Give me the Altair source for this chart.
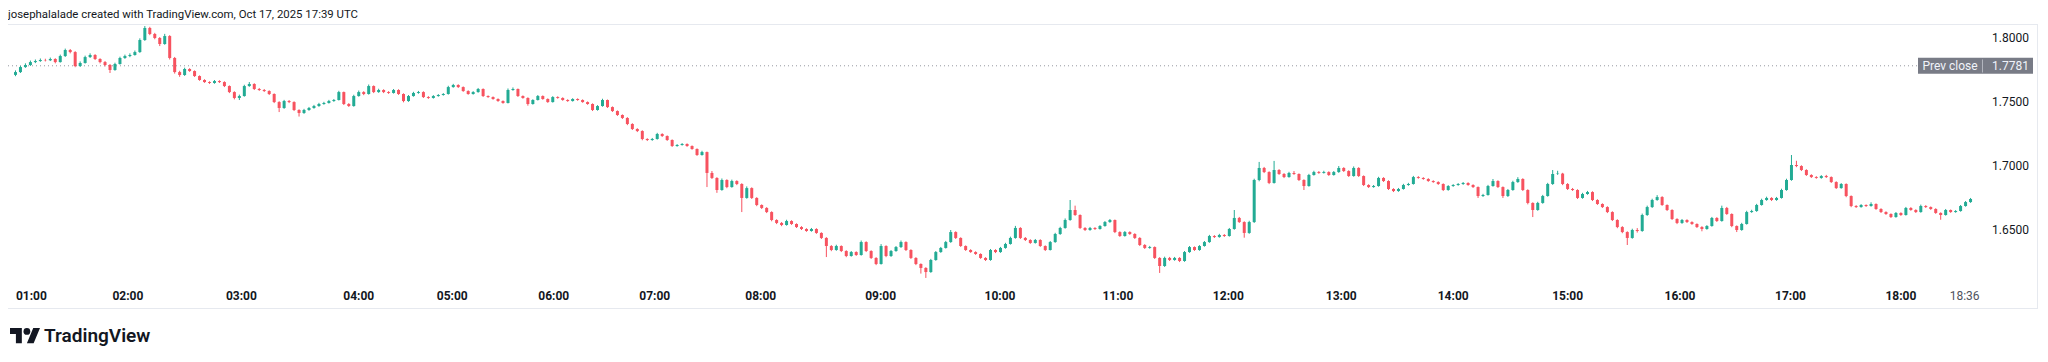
import altair as alt
import pandas as pd

# ---- data (bar index = position of each candle) ----
OPEN_FIRST = 1.7710
CLOSE = [
    1.7732, 1.7771, 1.7787, 1.7810, 1.7818, 1.7826, 1.7824, 1.7834, 1.7810, 1.7857,
    1.7904, 1.7888, 1.7779, 1.7803, 1.7849, 1.7865, 1.7834, 1.7810, 1.7787, 1.7748,
    1.7795, 1.7842, 1.7857, 1.7865, 1.7888, 1.7982, 1.8076, 1.8029, 1.7998, 1.7951,
    1.8013, 1.7842, 1.7732, 1.7709, 1.7756, 1.7740, 1.7701, 1.7670, 1.7654, 1.7647,
    1.7662, 1.7654, 1.7623, 1.7576, 1.7530, 1.7545, 1.7623, 1.7639, 1.7600, 1.7592,
    1.7584, 1.7561, 1.7498, 1.7452, 1.7506, 1.7498, 1.7436, 1.7413, 1.7436, 1.7452,
    1.7467, 1.7483, 1.7491, 1.7506, 1.7514, 1.7576, 1.7483, 1.7467, 1.7545, 1.7576,
    1.7561, 1.7623, 1.7576, 1.7592, 1.7576, 1.7569, 1.7592, 1.7561, 1.7506, 1.7545,
    1.7569, 1.7576, 1.7537, 1.7530, 1.7545, 1.7553, 1.7561, 1.7615, 1.7631, 1.7615,
    1.7584, 1.7561, 1.7576, 1.7600, 1.7545, 1.7537, 1.7522, 1.7506, 1.7491, 1.7592,
    1.7600, 1.7545, 1.7530, 1.7483, 1.7514, 1.7545, 1.7522, 1.7498, 1.7537, 1.7530,
    1.7514, 1.7506, 1.7522, 1.7514, 1.7498, 1.7483, 1.7436, 1.7467, 1.7514, 1.7459,
    1.7428, 1.7397, 1.7374, 1.7327, 1.7288, 1.7272, 1.7210, 1.7202, 1.7210, 1.7249,
    1.7233, 1.7202, 1.7155, 1.7163, 1.7171, 1.7155, 1.7132, 1.7085, 1.7108, 1.6945,
    1.6906, 1.6812, 1.6890, 1.6835, 1.6882, 1.6859, 1.6750, 1.6827, 1.6750, 1.6695,
    1.6672, 1.6640, 1.6578, 1.6555, 1.6539, 1.6570, 1.6547, 1.6523, 1.6508, 1.6492,
    1.6508, 1.6477, 1.6438, 1.6375, 1.6344, 1.6375, 1.6336, 1.6297, 1.6328, 1.6305,
    1.6406, 1.6336, 1.6282, 1.6235, 1.6375, 1.6297, 1.6336, 1.6367, 1.6406, 1.6344,
    1.6282, 1.6235, 1.6204, 1.6172, 1.6266, 1.6328, 1.6360, 1.6406, 1.6484, 1.6438,
    1.6375, 1.6344, 1.6328, 1.6313, 1.6282, 1.6266, 1.6344, 1.6328, 1.6360, 1.6391,
    1.6438, 1.6516, 1.6438, 1.6422, 1.6399, 1.6422, 1.6375, 1.6344, 1.6406, 1.6469,
    1.6516, 1.6578, 1.6656, 1.6617, 1.6516, 1.6500, 1.6516, 1.6508, 1.6531, 1.6562,
    1.6578, 1.6484, 1.6453, 1.6484, 1.6469, 1.6438, 1.6383, 1.6360, 1.6367, 1.6282,
    1.6219, 1.6282, 1.6266, 1.6282, 1.6258, 1.6328, 1.6367, 1.6344, 1.6375, 1.6406,
    1.6453, 1.6445, 1.6461, 1.6453, 1.6508, 1.6594, 1.6562, 1.6477, 1.6562, 1.6890,
    1.6984, 1.6952, 1.6867, 1.6968, 1.6937, 1.6913, 1.6945, 1.6937, 1.6890, 1.6843,
    1.6929, 1.6952, 1.6945, 1.6952, 1.6929, 1.6952, 1.6984, 1.6960, 1.6921, 1.6984,
    1.6921, 1.6851, 1.6835, 1.6843, 1.6906, 1.6882, 1.6820, 1.6804, 1.6820, 1.6851,
    1.6859, 1.6913, 1.6906, 1.6898, 1.6882, 1.6874, 1.6859, 1.6812, 1.6843, 1.6851,
    1.6859, 1.6867, 1.6851, 1.6835, 1.6765, 1.6773, 1.6843, 1.6882, 1.6835, 1.6765,
    1.6812, 1.6874, 1.6898, 1.6812, 1.6711, 1.6656, 1.6711, 1.6765, 1.6859, 1.6937,
    1.6940, 1.6859, 1.6820, 1.6812, 1.6750, 1.6781, 1.6796, 1.6734, 1.6703, 1.6679,
    1.6640, 1.6578, 1.6523, 1.6484, 1.6438, 1.6500, 1.6492, 1.6617, 1.6679, 1.6734,
    1.6757, 1.6695, 1.6656, 1.6586, 1.6555, 1.6578, 1.6562, 1.6547, 1.6523, 1.6508,
    1.6531, 1.6594, 1.6570, 1.6672, 1.6625, 1.6531, 1.6500, 1.6547, 1.6640, 1.6648,
    1.6695, 1.6734, 1.6750, 1.6734, 1.6750, 1.6812, 1.6890, 1.7007, 1.6999, 1.6968,
    1.6929, 1.6913, 1.6906, 1.6921, 1.6913, 1.6874, 1.6827, 1.6859, 1.6765, 1.6687,
    1.6679, 1.6695, 1.6687, 1.6703, 1.6664, 1.6640, 1.6625, 1.6601, 1.6633, 1.6617,
    1.6672, 1.6656, 1.6640, 1.6687, 1.6679, 1.6664, 1.6633, 1.6617, 1.6656, 1.6640,
    1.6648, 1.6687, 1.6718, 1.6742,
]
HIGH = [
    1.7745, 1.7780, 1.7800, 1.7822, 1.7830, 1.7838, 1.7836, 1.7845, 1.7840, 1.7868,
    1.7915, 1.7912, 1.7895, 1.7815, 1.7860, 1.7878, 1.7872, 1.7840, 1.7818, 1.7795,
    1.7805, 1.7852, 1.7868, 1.7878, 1.7900, 1.7995, 1.8091, 1.8085, 1.8038, 1.8005,
    1.8030, 1.8020, 1.7850, 1.7742, 1.7766, 1.7762, 1.7745, 1.7706, 1.7676, 1.7660,
    1.7670, 1.7668, 1.7660, 1.7628, 1.7582, 1.7556, 1.7633, 1.7654, 1.7645, 1.7608,
    1.7600, 1.7590, 1.7566, 1.7505, 1.7515, 1.7514, 1.7504, 1.7442, 1.7445, 1.7460,
    1.7476, 1.7492, 1.7500, 1.7515, 1.7522, 1.7586, 1.7580, 1.7490, 1.7555, 1.7588,
    1.7583, 1.7635, 1.7628, 1.7602, 1.7598, 1.7583, 1.7600, 1.7598, 1.7566, 1.7553,
    1.7578, 1.7585, 1.7582, 1.7544, 1.7552, 1.7560, 1.7568, 1.7625, 1.7640, 1.7637,
    1.7620, 1.7590, 1.7583, 1.7608, 1.7605, 1.7550, 1.7542, 1.7527, 1.7511, 1.7604,
    1.7612, 1.7604, 1.7550, 1.7535, 1.7520, 1.7553, 1.7550, 1.7527, 1.7544, 1.7543,
    1.7535, 1.7520, 1.7528, 1.7527, 1.7519, 1.7503, 1.7488, 1.7474, 1.7524, 1.7518,
    1.7464, 1.7433, 1.7402, 1.7380, 1.7333, 1.7294, 1.7278, 1.7216, 1.7218, 1.7258,
    1.7255, 1.7238, 1.7207, 1.7170, 1.7178, 1.7176, 1.7160, 1.7137, 1.7118, 1.7112,
    1.6960, 1.6912, 1.6902, 1.6896, 1.6893, 1.6888, 1.6865, 1.6840, 1.6833, 1.6756,
    1.6700, 1.6678, 1.6646, 1.6584, 1.6562, 1.6580, 1.6576, 1.6552, 1.6530, 1.6514,
    1.6516, 1.6514, 1.6482, 1.6444, 1.6382, 1.6385, 1.6380, 1.6342, 1.6336, 1.6334,
    1.6418, 1.6412, 1.6342, 1.6288, 1.6390, 1.6381, 1.6344, 1.6375, 1.6418, 1.6412,
    1.6350, 1.6288, 1.6240, 1.6210, 1.6275, 1.6336, 1.6368, 1.6415, 1.6500, 1.6490,
    1.6443, 1.6380, 1.6350, 1.6334, 1.6318, 1.6288, 1.6352, 1.6350, 1.6368, 1.6400,
    1.6448, 1.6532, 1.6522, 1.6445, 1.6428, 1.6430, 1.6428, 1.6380, 1.6414, 1.6478,
    1.6525, 1.6590, 1.6734, 1.6690, 1.6622, 1.6522, 1.6524, 1.6522, 1.6538, 1.6570,
    1.6586, 1.6582, 1.6490, 1.6492, 1.6490, 1.6475, 1.6444, 1.6390, 1.6376, 1.6372,
    1.6288, 1.6292, 1.6290, 1.6290, 1.6288, 1.6336, 1.6375, 1.6372, 1.6382, 1.6414,
    1.6462, 1.6460, 1.6470, 1.6468, 1.6516, 1.6656, 1.6602, 1.6568, 1.6572, 1.6900,
    1.7031, 1.6992, 1.6958, 1.7039, 1.6975, 1.6944, 1.6954, 1.6960, 1.6942, 1.6896,
    1.6938, 1.6962, 1.6960, 1.6962, 1.6958, 1.6960, 1.6999, 1.6990, 1.6966, 1.6996,
    1.6990, 1.6926, 1.6857, 1.6851, 1.6915, 1.6912, 1.6888, 1.6826, 1.6828, 1.6860,
    1.6868, 1.6922, 1.6920, 1.6912, 1.6904, 1.6888, 1.6880, 1.6864, 1.6850, 1.6858,
    1.6866, 1.6874, 1.6872, 1.6857, 1.6840, 1.6782, 1.6852, 1.6898, 1.6888, 1.6840,
    1.6820, 1.6884, 1.6912, 1.6904, 1.6818, 1.6716, 1.6720, 1.6774, 1.6868, 1.6968,
    1.6962, 1.6946, 1.6866, 1.6828, 1.6818, 1.6790, 1.6805, 1.6802, 1.6740, 1.6708,
    1.6685, 1.6646, 1.6584, 1.6530, 1.6490, 1.6510, 1.6515, 1.6628, 1.6690, 1.6744,
    1.6772, 1.6764, 1.6700, 1.6662, 1.6592, 1.6586, 1.6584, 1.6568, 1.6552, 1.6530,
    1.6538, 1.6602, 1.6600, 1.6690, 1.6680, 1.6630, 1.6536, 1.6556, 1.6650, 1.6658,
    1.6704, 1.6744, 1.6760, 1.6756, 1.6758, 1.6822, 1.6900, 1.7085, 1.7040, 1.7005,
    1.6974, 1.6935, 1.6920, 1.6928, 1.6930, 1.6918, 1.6880, 1.6866, 1.6864, 1.6770,
    1.6694, 1.6702, 1.6700, 1.6716, 1.6708, 1.6670, 1.6646, 1.6630, 1.6640, 1.6638,
    1.6680, 1.6678, 1.6662, 1.6698, 1.6694, 1.6684, 1.6670, 1.6638, 1.6664, 1.6660,
    1.6655, 1.6695, 1.6726, 1.6750,
]
LOW = [
    1.7700, 1.7725, 1.7765, 1.7780, 1.7802, 1.7812, 1.7815, 1.7818, 1.7800, 1.7806,
    1.7850, 1.7878, 1.7770, 1.7772, 1.7798, 1.7842, 1.7826, 1.7800, 1.7776, 1.7725,
    1.7742, 1.7790, 1.7835, 1.7848, 1.7860, 1.7882, 1.7975, 1.8020, 1.7988, 1.7935,
    1.7945, 1.7830, 1.7720, 1.7695, 1.7702, 1.7734, 1.7694, 1.7664, 1.7648, 1.7640,
    1.7641, 1.7647, 1.7615, 1.7568, 1.7519, 1.7514, 1.7540, 1.7617, 1.7592, 1.7585,
    1.7577, 1.7553, 1.7490, 1.7420, 1.7445, 1.7490, 1.7428, 1.7385, 1.7406, 1.7430,
    1.7446, 1.7461, 1.7477, 1.7486, 1.7500, 1.7510, 1.7475, 1.7460, 1.7462, 1.7540,
    1.7552, 1.7556, 1.7568, 1.7570, 1.7568, 1.7562, 1.7564, 1.7554, 1.7496, 1.7500,
    1.7540, 1.7563, 1.7530, 1.7523, 1.7525, 1.7540, 1.7548, 1.7556, 1.7610, 1.7608,
    1.7578, 1.7555, 1.7556, 1.7571, 1.7538, 1.7531, 1.7516, 1.7500, 1.7485, 1.7487,
    1.7586, 1.7538, 1.7524, 1.7470, 1.7478, 1.7510, 1.7516, 1.7492, 1.7494, 1.7524,
    1.7508, 1.7500, 1.7502, 1.7508, 1.7493, 1.7477, 1.7428, 1.7431, 1.7462, 1.7452,
    1.7421, 1.7390, 1.7366, 1.7318, 1.7280, 1.7264, 1.7200, 1.7194, 1.7196, 1.7205,
    1.7226, 1.7195, 1.7148, 1.7150, 1.7158, 1.7149, 1.7126, 1.7078, 1.7080, 1.6835,
    1.6898, 1.6790, 1.6806, 1.6826, 1.6830, 1.6850, 1.6640, 1.6744, 1.6742, 1.6686,
    1.6664, 1.6632, 1.6568, 1.6546, 1.6530, 1.6534, 1.6540, 1.6516, 1.6500, 1.6486,
    1.6487, 1.6470, 1.6430, 1.6289, 1.6335, 1.6338, 1.6328, 1.6288, 1.6292, 1.6298,
    1.6300, 1.6328, 1.6274, 1.6226, 1.6230, 1.6288, 1.6290, 1.6330, 1.6360, 1.6336,
    1.6274, 1.6226, 1.6160, 1.6126, 1.6166, 1.6260, 1.6322, 1.6355, 1.6400, 1.6430,
    1.6368, 1.6337, 1.6322, 1.6306, 1.6275, 1.6258, 1.6260, 1.6320, 1.6322, 1.6354,
    1.6386, 1.6432, 1.6430, 1.6414, 1.6392, 1.6394, 1.6368, 1.6336, 1.6340, 1.6400,
    1.6462, 1.6510, 1.6572, 1.6610, 1.6508, 1.6492, 1.6494, 1.6500, 1.6503, 1.6526,
    1.6556, 1.6476, 1.6446, 1.6448, 1.6462, 1.6430, 1.6375, 1.6352, 1.6354, 1.6274,
    1.6165, 1.6212, 1.6258, 1.6260, 1.6250, 1.6252, 1.6322, 1.6337, 1.6338, 1.6370,
    1.6400, 1.6438, 1.6440, 1.6446, 1.6448, 1.6502, 1.6555, 1.6440, 1.6470, 1.6555,
    1.6880, 1.6944, 1.6858, 1.6862, 1.6930, 1.6905, 1.6908, 1.6930, 1.6882, 1.6812,
    1.6838, 1.6924, 1.6938, 1.6940, 1.6922, 1.6924, 1.6946, 1.6953, 1.6914, 1.6916,
    1.6914, 1.6843, 1.6828, 1.6830, 1.6838, 1.6875, 1.6812, 1.6796, 1.6798, 1.6815,
    1.6845, 1.6854, 1.6900, 1.6892, 1.6876, 1.6868, 1.6852, 1.6804, 1.6806, 1.6837,
    1.6845, 1.6852, 1.6845, 1.6828, 1.6750, 1.6758, 1.6768, 1.6838, 1.6828, 1.6750,
    1.6758, 1.6806, 1.6868, 1.6804, 1.6700, 1.6601, 1.6650, 1.6705, 1.6760, 1.6852,
    1.6930, 1.6850, 1.6812, 1.6805, 1.6742, 1.6744, 1.6775, 1.6726, 1.6696, 1.6672,
    1.6632, 1.6570, 1.6514, 1.6475, 1.6383, 1.6432, 1.6480, 1.6486, 1.6610, 1.6672,
    1.6728, 1.6688, 1.6648, 1.6578, 1.6546, 1.6548, 1.6555, 1.6540, 1.6516, 1.6490,
    1.6502, 1.6526, 1.6563, 1.6565, 1.6618, 1.6522, 1.6484, 1.6494, 1.6542, 1.6634,
    1.6642, 1.6690, 1.6728, 1.6726, 1.6728, 1.6745, 1.6806, 1.6884, 1.6990, 1.6960,
    1.6922, 1.6906, 1.6900, 1.6900, 1.6906, 1.6867, 1.6820, 1.6822, 1.6756, 1.6678,
    1.6672, 1.6674, 1.6680, 1.6682, 1.6657, 1.6633, 1.6618, 1.6594, 1.6596, 1.6610,
    1.6612, 1.6650, 1.6633, 1.6635, 1.6672, 1.6657, 1.6626, 1.6580, 1.6612, 1.6634,
    1.6635, 1.6643, 1.6682, 1.6712,
]
HOUR_LABELS = ["01:00", "02:00", "03:00", "04:00", "05:00", "06:00", "07:00", "08:00", "09:00",
               "10:00", "11:00", "12:00", "13:00", "14:00", "15:00", "16:00", "17:00", "18:00"]
HOUR_BAR = [3.2, 22.6, 45.4, 69.0, 87.8, 108.2, 128.5, 149.8, 173.9,
            197.9, 221.6, 243.8, 266.5, 289.0, 312.0, 334.6, 356.8, 379.0]
LAST_LABEL = ["18:36"]
LAST_BAR = [391.8]
PRICE_TICKS = [1.6500, 1.7000, 1.7500, 1.8000]
PREV_CLOSE = 1.7781
TITLE = "josephalalade created with TradingView.com, Oct 17, 2025 17:39 UTC"

# each candle opens where the previous one closed
OPEN = [OPEN_FIRST] + CLOSE[:-1]
df = pd.DataFrame({"bar": list(range(len(CLOSE))), "open": OPEN, "high": HIGH,
                   "low": LOW, "close": CLOSE})
df["dir"] = ["up" if c >= o else "down" for o, c in zip(OPEN, CLOSE)]

FONT = "Roboto"
TXT = "#131722"
W, H = 1977, 261
xs = alt.Scale(domain=[-0.5, 394.9], nice=False, zero=False)
ys = alt.Scale(domain=[1.6071, 1.8107], nice=False, zero=False)
col = alt.Color("dir:N", scale=alt.Scale(domain=["up", "down"], range=["#22AB94", "#F7525F"]), legend=None)

base = alt.Chart(df).encode(x=alt.X("bar:Q", scale=xs, axis=None), color=col)
wicks = base.mark_rule(strokeWidth=1).encode(y=alt.Y("low:Q", scale=ys, axis=None), y2="high:Q")
bodies = base.mark_bar(width=3).encode(y=alt.Y("open:Q", scale=ys, axis=None), y2="close:Q")

# frame lines (decoration)
one = pd.DataFrame({"k": [0]})
frame_top = alt.Chart(one).mark_rule(color="#E6E9EF", strokeWidth=1).encode(
    x=alt.value(0), x2=alt.value(2030), y=alt.value(0.5))
frame_bot = alt.Chart(one).mark_rule(color="#E6E9EF", strokeWidth=1).encode(
    x=alt.value(0), x2=alt.value(2030), y=alt.value(284.5))
frame_right = alt.Chart(one).mark_rule(color="#E6E9EF", strokeWidth=1).encode(
    x=alt.value(2029.5), y=alt.value(0), y2=alt.value(284.5))

# previous close line and label
pc = pd.DataFrame({"p": [PREV_CLOSE], "name": ["Prev close"], "val": [f"{PREV_CLOSE:.4f}"]})
pcy = alt.Y("p:Q", scale=ys, axis=None)
prev_line = alt.Chart(pc).mark_rule(color="#9598A1", strokeWidth=1, strokeDash=[1, 3]).encode(
    x=alt.value(0), x2=alt.value(1910), y=pcy)
prev_box = alt.Chart(pc).mark_rule(color="#787B86", strokeWidth=16).encode(
    x=alt.value(1910), x2=alt.value(2025), y=pcy)
prev_div = alt.Chart(one).mark_rule(color="#B2B5BE", strokeWidth=1).encode(
    x=alt.value(1974.5), y=alt.value(35.5), y2=alt.value(48.5))
prev_txt = alt.Chart(pc).mark_text(
    font=FONT, fontSize=12, color="#F0F3FA", align="center", baseline="middle").encode(
    x=alt.value(1942), y=pcy, text="name:N")
prev_val = alt.Chart(pc).mark_text(
    font=FONT, fontSize=12, color="#F0F3FA", align="left", baseline="middle").encode(
    x=alt.value(W + 7), y=pcy, text="val:N")

# price labels
price_df = pd.DataFrame({"p": PRICE_TICKS, "t": [f"{p:.4f}" for p in PRICE_TICKS]})
price_lbl = alt.Chart(price_df).mark_text(font=FONT, fontSize=12, color=TXT, align="left",
                                          baseline="middle").encode(
    x=alt.value(W + 7), y=alt.Y("p:Q", scale=ys, axis=None), text="t:N")

# time labels
hour_df = pd.DataFrame({"pos": HOUR_BAR, "t": HOUR_LABELS})
hour_lbl = alt.Chart(hour_df).mark_text(font=FONT, fontSize=12, fontWeight="bold", color=TXT,
                                        align="center", baseline="middle").encode(
    x=alt.X("pos:Q", scale=xs, axis=None), y=alt.value(272), text="t:N")
last_df = pd.DataFrame({"pos": LAST_BAR, "t": LAST_LABEL})
last_lbl = alt.Chart(last_df).mark_text(font=FONT, fontSize=12, color="#50535E",
                                        align="center", baseline="middle").encode(
    x=alt.X("pos:Q", scale=xs, axis=None), y=alt.value(272), text="t:N")

# header / footer
title = alt.Chart(pd.DataFrame({"t": [TITLE]})).mark_text(
    font=FONT, fontSize=11.4, color=TXT, align="left", baseline="alphabetic").encode(
    x=alt.value(0), y=alt.value(-6), text="t:N")

LOGO_PATH = ("M-0.211,0.507 L-0.606,0.507 L-0.606,-0.113 L-1,-0.113 L-1,-0.507 L-0.211,-0.507 Z "
             "M0.577,0.507 L0.127,0.507 L0.549,-0.507 L1,-0.507 Z")
logo = alt.Chart(one).mark_point(shape=LOGO_PATH, size=900, filled=True, opacity=1,
                                 color=TXT, strokeWidth=0).encode(
    x=alt.value(17), y=alt.value(311.6))
logo_dot = alt.Chart(one).mark_point(shape="circle", size=46, filled=True, opacity=1,
                                     color=TXT, strokeWidth=0).encode(
    x=alt.value(18.9), y=alt.value(307.4))
brand = alt.Chart(pd.DataFrame({"t": ["TradingView"]})).mark_text(
    font=FONT, fontSize=19, fontWeight=600, color=TXT, align="left", baseline="alphabetic").encode(
    x=alt.value(36), y=alt.value(318), text="t:N")

chart = alt.layer(
    frame_top, frame_bot, frame_right, prev_line, wicks, bodies, prev_box, prev_div, prev_txt, prev_val,
    price_lbl, hour_lbl, last_lbl, title, logo, logo_dot, brand
).properties(
    width=W, height=H,
    padding={"left": 0, "top": 16, "right": 54, "bottom": 62},
    autosize=alt.AutoSizeParams(type="none"),
    background="#FFFFFF",
).configure_view(stroke=None)

chart.save("out.html", embed_options={"renderer": "svg", "actions": False})
